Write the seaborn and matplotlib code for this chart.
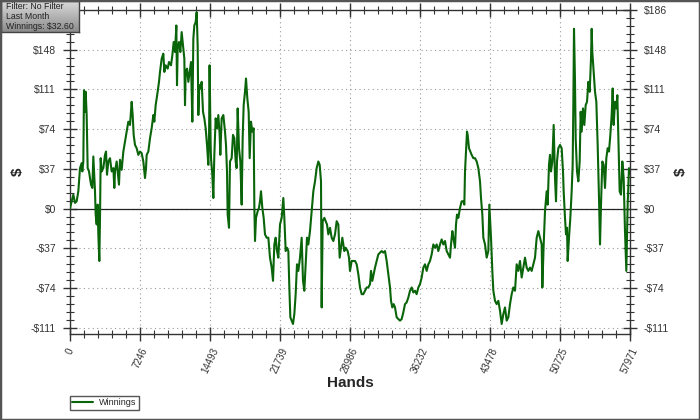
import matplotlib
matplotlib.use("Agg")
import matplotlib.pyplot as plt
import matplotlib.ticker as mticker
from matplotlib.patches import Rectangle
import numpy as np
import pandas as pd
import seaborn as sns

# cumulative winnings, hand number -> $
hands = [
    0, 172, 345, 518, 690, 863, 1035, 1208, 1277, 1380, 1449, 1553, 1622, 1725, 1829, 1967,
    2174, 2312, 2415, 2519, 2588, 2657, 2760, 2864, 2933, 3036, 3106, 3175, 3278, 3450, 3623,
    3727, 3830, 3968, 4141, 4313, 4486, 4589, 4658, 4831, 5003, 5072, 5176, 5349, 5521, 5694,
    5866, 6039, 6211, 6384, 6487, 6591, 6729, 6901, 7074, 7246, 7419, 7591, 7764, 7868, 7937,
    8109, 8282, 8454, 8627, 8730, 8868, 9075, 9213, 9317, 9489, 9662, 9765, 9904, 10111, 10249,
    10456, 10594, 10732, 10870, 11008, 11077, 11146, 11284, 11422, 11560, 11698, 11836, 11905,
    11974, 12112, 12250, 12388, 12526, 12664, 12768, 12871, 13009, 13113, 13216, 13285, 13389,
    13492, 13630, 13768, 13906, 14044, 14182, 14320, 14400, 14450, 14520, 14560,
    14596, 14734, 14838, 14941, 15079, 15217, 15355, 15493, 15562, 15700, 15873, 16046, 16149,
    16253, 16322, 16460, 16563, 16736, 16874, 17012, 17150, 17253, 17357, 17495, 17633, 17771,
    17874, 17978, 18116, 18220, 18358, 18496, 18599, 18737, 18875, 19013, 19082, 19151, 19255,
    19427, 19565, 19669, 19772, 19910, 20048, 20186, 20359, 20531, 20704, 20877, 21015, 21153,
    21291, 21429, 21567, 21739, 21912, 22084, 22188, 22326, 22464, 22602, 22706, 22809, 22947,
    23085, 23223, 23361, 23499, 23637, 23810, 23982, 24120, 24258, 24396, 24534, 24672, 24845,
    25018, 25190, 25363, 25535, 25708, 25846, 25984, 26053, 26156, 26329, 26467, 26605, 26743,
    26915, 27088, 27260, 27433, 27606, 27778, 27916, 28054, 28192, 28399, 28537, 28744, 28882,
    28986, 29158, 29331, 29503, 29676, 29848, 30021, 30193, 30366, 30538, 30711, 30883, 31056,
    31160, 31298, 31436, 31574, 31746, 31919, 32091, 32264, 32436, 32609, 32782, 32954, 33127,
    33230, 33368, 33506, 33644, 33817, 33989, 34162, 34334, 34507, 34679, 34852, 35024, 35197,
    35370, 35542, 35715, 35887, 36060, 36232, 36405, 36577, 36750, 36922, 37095, 37267, 37440,
    37612, 37785, 37958, 38130, 38303, 38475, 38648, 38820, 38993, 39165, 39338, 39441, 39579,
    39683, 39855, 39959, 40062, 40200, 40373, 40546, 40718, 40822, 40891, 40994, 41098, 41167,
    41305, 41443, 41581, 41754, 41926, 42099, 42271, 42444, 42547, 42685, 42789, 42961, 43134,
    43306, 43410,
    43478, 43582, 43720, 43823, 43996, 44169, 44341, 44514, 44686, 44859, 45031, 45204, 45376,
    45549, 45722, 45894, 46067, 46239, 46412, 46584, 46757, 46929, 47102, 47274, 47447, 47619,
    47792, 47964, 48137, 48310, 48482, 48655, 48827, 48897, 49035, 49172, 49345, 49448, 49586,
    49690, 49793, 49931, 50069, 50207, 50311, 50414, 50552, 50725, 50897, 51035, 51104, 51242,
    51346, 51449, 51518, 51656, 51794, 51932, 52036, 52105, 52174, 52278, 52347, 52485, 52623,
    52761, 52864, 52968, 53106, 53244, 53382, 53520, 53658, 53796, 53934, 54003, 54072, 54210,
    54348, 54486, 54624, 54762, 54866, 54969, 55107, 55245, 55383, 55521, 55659, 55797, 55935,
    56073, 56177, 56280, 56418, 56556, 56660, 56763, 56901, 57039, 57177, 57315, 57453, 57591,
    57729, 57867, 57971,
]
winnings = [
    0, 6.8, 13.0, 5.3, 6.8, 16.2, 37.9, 42.6, 34.8, 44.1, 110.9, 90.7, 109.4, 87.6, 37.9, 34.8,
    22.4, 19.3, 48.8, 28.6, 16.2, -5.6, -14.9, 3.7, -24.2, -49.1, -8.7, 47.2, 34.8, 37.9, 50.3,
    53.4, 31.7, 44.1, 47.2, 34.8, 37.9, 19.3, 34.8, 44.1, 28.6, 22.4, 45.7, 36.3, 53.4, 62.8,
    72.1, 81.4, 78.3, 100.0, 87.6, 69.0, 59.6, 56.5, 50.3, 53.4, 51.9, 44.1, 28.6, 37.9, 50.3,
    53.4, 65.9, 75.2, 87.6, 81.4, 96.9, 109.4, 118.7, 128.0, 140.4, 145.1, 128.0, 134.2, 131.1, 137.3,
    134.2, 143.5, 156.0, 146.6, 171.5, 115.6, 149.7, 156.0, 146.6, 165.3, 152.8, 140.4, 96.9,
    128.0, 131.1, 118.7, 128.0, 137.3, 81.4, 159.1, 171.5, 174.6, 183.9, 152.8, 87.6, 115.6,
    112.5, 118.7, 90.7, 84.5, 75.2, 59.6, 41.0, 72.1, 134.2, 84.5, 59.6,
    47.2, 31.7, 9.9, 50.3, 84.5, 75.2, 87.6, 69.0, 50.3, 84.5, 87.6, 72.1, 59.6,
    34.8, -5.6, -18.0, 44.1, 47.2, 69.0, 65.9, 44.1, 37.9, 93.8, 56.5, 44.1, 3.7,
    65.9, 96.9, 109.4, 121.8, 103.1, 90.7, 47.2, 81.4, 72.1, 75.2, 3.7, -30.4, -8.7,
    -2.5, 0.6, 6.8, 16.2, 0.6, -8.7, -24.2, -27.3, -27.3, -46.0, -55.3, -67.7, -33.6,
    -27.3, -39.8, -46.0, -14.9, -8.7, 9.9, -8.7, -39.8, -36.7, -39.8, -73.9, -101.9, -105.0,
    -108.1, -98.8, -80.2, -52.2, -58.4, -46.0, -27.3, -67.7, -77.0, -52.2, -27.3, -33.6, -21.1,
    -2.5, 16.2, 25.5, 37.9, 44.1, 41.0, 25.5, -92.6, -11.8, -8.7, -11.8, -14.9, -24.2,
    -18.0, -27.3, -30.4, -24.2, -11.8, -14.9, -46.0, -36.7, -27.3, -39.8, -36.7, -39.8, -46.0,
    -58.4, -49.1, -49.1, -49.1, -52.2, -61.5, -73.9, -80.2, -80.2, -77.0, -73.9, -73.9, -70.8,
    -58.4, -67.7, -61.5, -55.3, -49.1, -42.9, -41.3, -39.8, -41.3, -39.8, -49.1, -61.5, -73.9,
    -86.4, -92.6, -89.5, -92.6, -101.9, -103.5, -105.0, -103.5, -97.2, -89.5, -87.9, -83.3, -77.0,
    -73.9, -78.6, -77.0, -80.2, -73.9, -70.8, -64.6, -55.3, -52.2, -58.4, -52.2, -49.1, -42.9,
    -33.6, -36.7, -33.6, -39.8, -33.6, -28.9, -33.6, -30.4, -39.8, -42.9, -46.0, -33.6, -21.1,
    -27.3, -36.7, -14.9, -5.6, -8.7, 0.6, 6.8, 6.8, 3.7, 34.8, 53.4, 72.1, 69.0,
    56.5, 53.4, 50.3, 47.2, 47.2, 44.1, 37.9, 25.5, 9.9, -5.6, -27.3, -33.6, -46.0,
    -39.8, 3.7,
    -8.7, -27.3, -58.4, -77.0, -86.4, -89.5, -86.4, -95.7, -108.1, -98.8, -92.6, -105.0, -101.9,
    -89.5, -80.2, -73.9, -77.0, -52.2, -58.4, -49.1, -64.6, -55.3, -46.0, -55.3, -58.4, -55.3,
    -58.4, -52.2, -46.0, -27.3, -21.1, -27.3, -33.6, -73.9, -33.6, -2.5, 16.2, 3.7, 41.0,
    50.3, 34.8, 44.1, 78.3, 28.6, 6.8, 44.1, 56.5, 59.6, 56.5, 34.8, 16.2, -8.7,
    -24.2, -18.0, -49.1, -27.3, -8.7, 16.2, 41.0, 96.9, 168.4, 118.7, 65.9, 34.8, 25.5,
    44.1, 90.7, 72.1, 93.8, 78.3, 96.9, 100.0, 118.7, 109.4, 140.4, 168.4, 146.6, 128.0,
    109.4, 100.0, 59.6, 9.9, -33.6, 3.7, 44.1, 41.0, 19.3, 47.2, 56.5, 53.4, 69.0,
    87.6, 112.5, 78.3, 100.0, 93.8, 106.2, 65.9, 16.2, 13.0, 44.1, 28.6, -21.1, -58.4,
    3.7, 37.9, 32.6,
]
x_ticks = [0, 7246, 14493, 21739, 28986, 36232, 43478, 50725, 57971]
y_step = 37.2
info_lines = ["Filter: No Filter", "Last Month", "Winnings: $32.60"]


def money(v):
    return f"-${int(-v)}" if v < 0 else f"${int(v)}"


sns.set_theme(style="white")
plt.rcParams["font.family"] = ["Liberation Sans", "DejaVu Sans"]

fig = plt.figure(figsize=(7, 4.2), dpi=100)
ax = fig.add_axes([70 / 700, 1 - 334 / 420, 560 / 700, 324 / 420])

df = pd.DataFrame({"Hands": hands, "Winnings": winnings})
sns.lineplot(data=df, x="Hands", y="Winnings", color="#0a640a", lw=1.5,
             estimator=None, label="Winnings", ax=ax, zorder=3)
ax.axhline(0, color="#222222", lw=0.9, zorder=2)

ax.set_xlim(0, 57971)
ax.set_ylim(-117.5, 186)
ax.set_xticks(x_ticks)
ax.set_xticklabels([str(t) for t in x_ticks], rotation=65, ha="center", va="top",
                   fontsize=7, color="#333333")
y_ticks = [y_step * k for k in range(-3, 6)]
ax.set_yticks(y_ticks)
ax.set_yticklabels([money(v) for v in y_ticks], fontsize=7.5, color="#333333")
ax.xaxis.set_minor_locator(mticker.AutoMinorLocator(5))
ax.yaxis.set_minor_locator(mticker.AutoMinorLocator(5))
ax.tick_params(which="both", direction="inout", top=True, right=True, left=True,
               bottom=True, labelright=True, color="#333333")
ax.tick_params(which="major", length=10, width=1, pad=5)
ax.tick_params(axis="x", which="major", pad=4)
ax.tick_params(which="minor", length=6, width=0.8)
ax.grid(True, which="major", ls=(0, (1, 3)), color="#999999", lw=0.8)
for s in ax.spines.values():
    s.set_color("#333333")
    s.set_linewidth(1)
ax.set_xlabel("")
ax.set_ylabel("")
# the info box hides the top-left label in the original
ax.yaxis.get_major_ticks()[-1].label1.set_visible(False)

fig.text(350 / 700, 1 - 383 / 420, "Hands", ha="center", va="center",
         fontsize=11, fontweight="bold")
fig.text(18 / 700, 1 - 172 / 420, "$", rotation=90, ha="center", va="center",
         fontsize=11, fontweight="bold")
fig.text(681 / 700, 1 - 172 / 420, "$", rotation=90, ha="center", va="center",
         fontsize=11, fontweight="bold")

ax.legend(loc="upper left", bbox_to_anchor=(70 / 700, 1 - 396 / 420),
          bbox_transform=fig.transFigure, fancybox=False, edgecolor="#555555",
          framealpha=1, fontsize=6.5, handlelength=2.3, handletextpad=0.7,
          borderpad=0.25, borderaxespad=0)

# info box in the top-left corner, light-to-dark grey
box_ax = fig.add_axes([1 / 700, 1 - 32 / 420, 78 / 700, 31 / 420])
box_ax.imshow(np.linspace(0.85, 0.55, 32).reshape(-1, 1), cmap="gray",
              vmin=0, vmax=1, aspect="auto", extent=(0, 1, 0, 1))
box_ax.set_xticks([])
box_ax.set_yticks([])
for s in box_ax.spines.values():
    s.set_color("#444444")
    s.set_linewidth(1)
fig.text(6 / 700, 1 - 2 / 420, "\n".join(info_lines), ha="left", va="top",
         fontsize=6.3, linespacing=1.12, color="#222222")

fig.patches.append(Rectangle((0, 0), 1, 1, transform=fig.transFigure, fill=False,
                             ec="#555555", lw=2.5))

fig.savefig("out.png", dpi=100)
plt.close(fig)
